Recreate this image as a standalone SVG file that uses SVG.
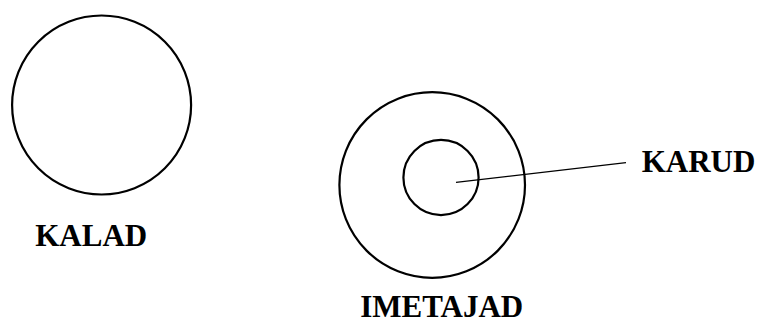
<svg xmlns="http://www.w3.org/2000/svg" width="759" height="323" viewBox="0 0 759 323">
<style>
.shape{fill:none;stroke:#000;stroke-width:2.2}
.lbl{font-family:"Liberation Serif","Times New Roman",serif;font-weight:bold;font-size:31px;fill:#000}
.conn{stroke:#000;stroke-width:1.2}
</style>
<rect width="759" height="323" fill="#fff"/>
<g id="kalad">
<circle class="shape" cx="101.6" cy="105" r="89.5"/>
<text class="lbl" x="91.2" y="245.7" text-anchor="middle">KALAD</text>
</g>
<g id="imetajad">
<circle class="shape" cx="432.2" cy="185" r="92.8"/>
<text class="lbl" x="441.7" y="316.5" text-anchor="middle">IMETAJAD</text>
</g>
<g id="karud">
<circle class="shape" cx="441" cy="177.5" r="37.6"/>
<text class="lbl" x="641.7" y="172.3">KARUD</text>
</g>
<g id="connectors">
<line class="conn" x1="456" y1="182.3" x2="626" y2="162.7"/>
</g>
</svg>
